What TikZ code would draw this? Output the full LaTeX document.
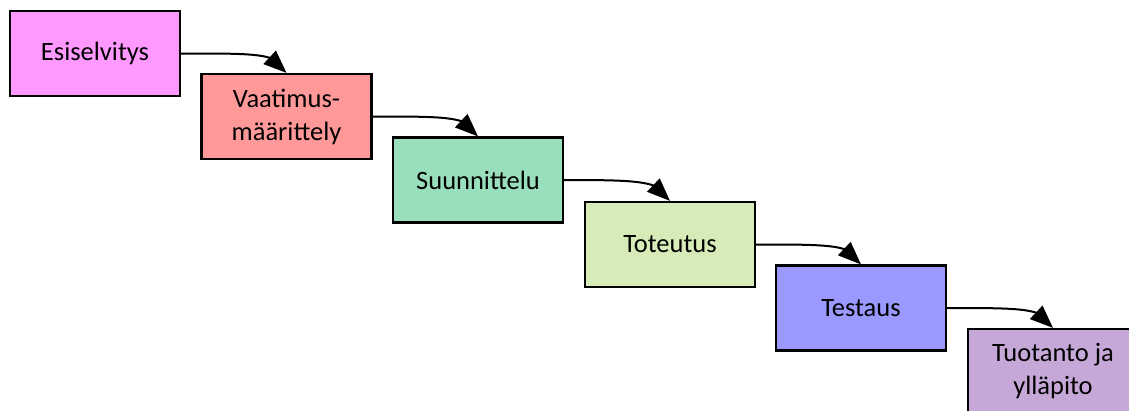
\documentclass[tikz,border=0pt]{standalone}
\usepackage{fontspec}
\setmainfont{Carlito}
\usetikzlibrary{arrows.meta,bending}
\definecolor{cEsi}{RGB}{255,153,255}
\definecolor{cVaa}{RGB}{255,153,153}
\definecolor{cSuu}{RGB}{153,223,187}
\definecolor{cTot}{RGB}{214,235,184}
\definecolor{cTes}{RGB}{153,153,255}
\definecolor{cTuo}{RGB}{197,168,216}
\tikzset{
  phase/.style={draw=black, line width=2.2pt, minimum width=170pt, minimum height=85pt,
    inner sep=0pt, align=center, font=\fontsize{26.5}{33}\selectfont},
  flow/.style={draw=black, line width=2pt,
    -{Triangle[length=23pt,width=18pt,flex]}},
}
\begin{document}
\begin{tikzpicture}[x=1pt,y=-1pt]
  \useasboundingbox (0,0) rectangle (1129,410);
  \clip (0,0) rectangle (1129,410);
  % waterfall phases
  \node[phase, fill=cEsi] (esi) at (95,53.5) {Esiselvitys};
  \node[phase, fill=cVaa] (vaa) at (286.5,116.5) {Vaatimus-\\määrittely};
  \node[phase, fill=cSuu] (suu) at (478,180) {Suunnittelu};
  \node[phase, fill=cTot] (tot) at (670,244.5) {Toteutus};
  \node[phase, fill=cTes] (tes) at (861,308) {Testaus};
  \node[phase, fill=cTuo] (tuo) at (1053,371.5) {Tuotanto ja\\ylläpito};
  % connectors from each phase to the next
  \foreach \a/\b in {esi/vaa, vaa/suu, suu/tot, tot/tes, tes/tuo}{
    \draw[flow] (\a.east) .. controls +(78,0) and +(-8,-20) .. (\b.north);
  }
\end{tikzpicture}
\end{document}
